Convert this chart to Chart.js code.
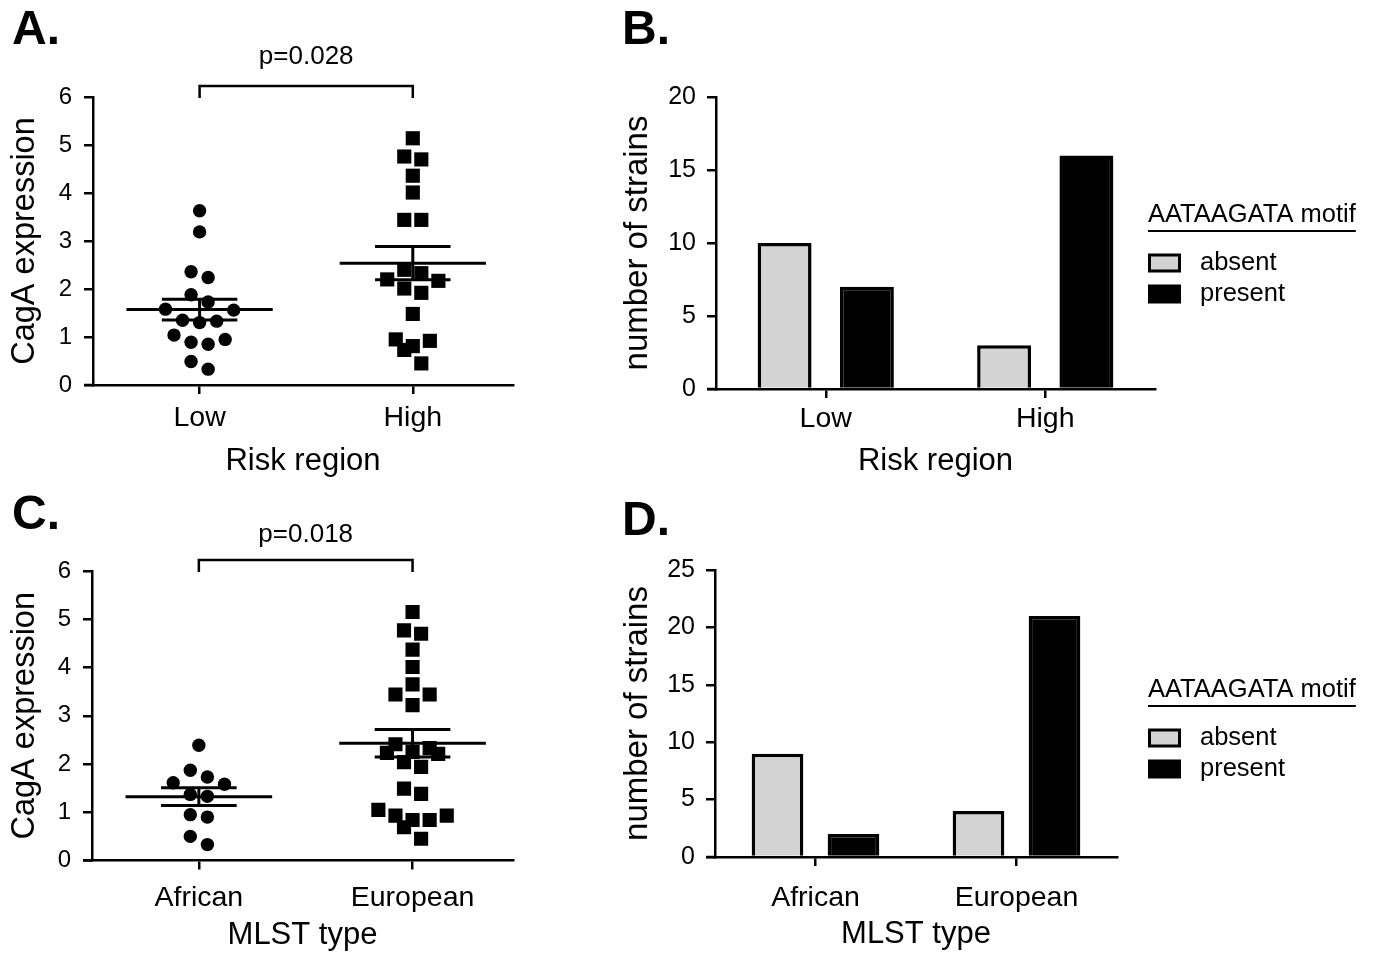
<!DOCTYPE html>
<html><head><meta charset="utf-8">
<script src="https://cdn.jsdelivr.net/npm/chart.js@4.4.1/dist/chart.umd.min.js"></script>
<style>
html,body{margin:0;padding:0;background:#fff;width:1373px;height:956px;overflow:hidden;font-family:"Liberation Sans",Arial,sans-serif;}
canvas{position:absolute;}
.lbl{position:absolute;font-weight:bold;font-size:48px;line-height:48px;color:#000;}
</style></head><body>
<canvas id="cA" style="left:0;top:0" width="560" height="480"></canvas>
<canvas id="cB" style="left:600px;top:0" width="773" height="480"></canvas>
<canvas id="cC" style="left:0;top:475px" width="560" height="481"></canvas>
<canvas id="cD" style="left:600px;top:475px" width="773" height="481"></canvas>
<div class="lbl" style="left:12px;top:4px">A.</div>
<div class="lbl" style="left:622px;top:4px">B.</div>
<div class="lbl" style="left:12px;top:489px">C.</div>
<div class="lbl" style="left:622px;top:495px">D.</div>
<script>
// ---------- data ----------
const riskRegions = ['Low', 'High'];
const mlstTypes   = ['African', 'European'];
const motifStates = ['absent', 'present'];
const motifTitle  = 'AATAAGATA motif';

const cagaLowRisk  = [3.63, 3.19, 2.36, 2.24, 1.88, 1.73, 1.58, 1.56, 1.35, 1.33, 1.30, 1.04, 0.95, 0.89, 0.85, 0.49, 0.33];
const cagaHighRisk = [5.14, 4.76, 4.70, 4.36, 4.01, 3.44, 3.44, 2.40, 2.33, 2.20, 2.17, 2.01, 1.92, 1.48, 0.95, 0.92, 0.81, 0.73, 0.45];
const cagaAfrican  = [2.39, 1.87, 1.73, 1.61, 1.58, 1.37, 1.33, 0.95, 0.90, 0.50, 0.33];
const cagaEuropean = [5.15, 4.77, 4.70, 4.37, 4.01, 3.65, 3.44, 3.44, 3.22, 2.41, 2.33, 2.25, 2.23, 2.21, 2.04, 1.94, 1.49, 1.38, 1.05, 0.93, 0.93, 0.84, 0.84, 0.69, 0.45];

const riskAbsent  = [10, 3];
const riskPresent = [7, 16];
const mlstAbsent  = [9, 4];
const mlstPresent = [2, 21];

const pRisk = 'p=0.028';
const pMlst = 'p=0.018';

// ---------- helpers ----------
Chart.defaults.font.family = '"Liberation Sans", Arial, sans-serif';
Chart.defaults.color = '#000';
const FONT = '"Liberation Sans", Arial, sans-serif';

// GraphPad-like column scatter: bin by value, spread each bin horizontally
function swarm(values, center, binH, step) {
  const asc = values.slice().sort((a, b) => a - b);
  const bins = [];
  let cur = null;
  for (const v of asc) {
    if (!cur || v > cur.start + binH + 1e-9) { cur = { start: v, pts: [] }; bins.push(cur); }
    cur.pts.push(v);
  }
  const out = [];
  for (const b of bins) {
    const n = b.pts.length;
    const slots = [];
    for (let k = 0; k < n; k++) slots.push(k - (n - 1) / 2);
    const order = [];
    let lo = 0, hi = n - 1;
    while (lo <= hi) { order.push(slots[lo]); if (hi !== lo) order.push(slots[hi]); lo++; hi--; }
    const desc = b.pts.slice().sort((a, c) => c - a);
    desc.forEach((v, j) => out.push({ x: center + order[j] * step, y: v }));
  }
  return out;
}

function meanSem(arr) {
  const n = arr.length;
  const m = arr.reduce((s, v) => s + v, 0) / n;
  const sd = Math.sqrt(arr.reduce((s, v) => s + (v - m) * (v - m), 0) / (n - 1));
  return { m, sem: sd / Math.sqrt(n) };
}

const axisOverhang = {
  id: 'axisOverhang',
  afterDraw(chart) {
    const { ctx, chartArea: { left, bottom } } = chart;
    ctx.save();
    ctx.strokeStyle = '#000'; ctx.lineWidth = 2.5;
    ctx.beginPath(); ctx.moveTo(left - 9, bottom); ctx.lineTo(left, bottom); ctx.stroke();
    ctx.restore();
  }
};

const meanSemPlugin = {
  id: 'meanSem',
  afterDatasetsDraw(chart) {
    const { ctx } = chart;
    const xs = chart.scales.x, ys = chart.scales.y;
    ctx.save();
    ctx.strokeStyle = '#000'; ctx.lineWidth = 3; ctx.lineCap = 'butt';
    chart.data.datasets.forEach(ds => {
      const { m, sem } = meanSem(ds.values);
      const c = ds.center;
      const line = (x1, y1, x2, y2) => {
        ctx.beginPath();
        ctx.moveTo(xs.getPixelForValue(x1), ys.getPixelForValue(y1));
        ctx.lineTo(xs.getPixelForValue(x2), ys.getPixelForValue(y2));
        ctx.stroke();
      };
      line(c - 0.343, m, c + 0.343, m);
      line(c - 0.177, m + sem, c + 0.177, m + sem);
      line(c - 0.177, m - sem, c + 0.177, m - sem);
      line(c, m - sem, c, m + sem);
    });
    ctx.restore();
  }
};

const bracketPlugin = {
  id: 'bracket',
  afterDraw(chart, args, opts) {
    const { ctx, chartArea: { top } } = chart;
    const xs = chart.scales.x;
    const x1 = xs.getPixelForValue(1), x2 = xs.getPixelForValue(2);
    ctx.save();
    ctx.strokeStyle = '#000'; ctx.lineWidth = 2.5;
    ctx.beginPath();
    ctx.moveTo(x1, top + 1); ctx.lineTo(x1, top - 11); ctx.lineTo(x2, top - 11); ctx.lineTo(x2, top + 1);
    ctx.stroke();
    ctx.fillStyle = '#000';
    ctx.font = '26px ' + FONT;
    ctx.textAlign = 'center'; ctx.textBaseline = 'middle';
    ctx.fillText(opts.text, (x1 + x2) / 2, top - opts.textOffset);
    ctx.restore();
  }
};

const motifLegend = {
  id: 'motifLegend',
  afterDraw(chart, args, opts) {
    const { ctx, chartArea: { top } } = chart;
    ctx.save();
    ctx.font = '25.5px ' + FONT;
    ctx.fillStyle = '#000';
    ctx.textBaseline = 'middle'; ctx.textAlign = 'left';
    const x0 = opts.x;
    const ty = top + opts.titleOffset;
    ctx.fillText(opts.title, x0, ty);
    const w = ctx.measureText(opts.title).width;
    ctx.strokeStyle = '#000'; ctx.lineWidth = 2;
    ctx.beginPath(); ctx.moveTo(x0, ty + 16); ctx.lineTo(x0 + w, ty + 16); ctx.stroke();
    chart.data.datasets.forEach((ds, i) => {
      const cy = ty + 48 + i * 31;
      ctx.fillStyle = ds.backgroundColor;
      ctx.fillRect(x0 + 1.5, cy - 8, 30, 16);
      ctx.lineWidth = 3; ctx.strokeStyle = '#000';
      ctx.strokeRect(x0 + 1.5, cy - 8, 30, 16);
      ctx.fillStyle = '#000';
      ctx.fillText(ds.label, x0 + 52, cy);
    });
    ctx.restore();
  }
};

const gridStyle = { drawOnChartArea: false, drawTicks: true, tickLength: 9, color: '#000', tickColor: '#000', lineWidth: 2.5, tickWidth: 2.5 };
const borderStyle = { display: true, color: '#000', width: 2.5 };

function scatterPanel(id, cats, groups, pText, cfg) {
  const markers = ['circle', 'rect'];
  const radii = [6.7, 10];
  new Chart(document.getElementById(id), {
    type: 'scatter',
    data: {
      datasets: groups.map((vals, i) => ({
        label: cats[i],
        values: vals,
        center: i + 1,
        data: swarm(vals, i + 1, 0.3, 0.08),
        pointStyle: markers[i],
        pointRadius: radii[i],
        pointBackgroundColor: '#000',
        pointBorderWidth: 0,
        showLine: false
      }))
    },
    options: {
      responsive: false, animation: false, events: [],
      layout: { padding: { left: 0, top: cfg.top, right: cfg.right, bottom: 0 } },
      plugins: { legend: { display: false }, tooltip: { enabled: false },
                 bracket: { text: pText, textOffset: cfg.pOffset } },
      scales: {
        x: {
          type: 'linear', min: 0.5, max: 2.47,
          afterBuildTicks: s => { s.ticks = cats.map((c, i) => ({ value: i + 1 })); },
          afterFit: s => { s.height = cfg.xHeight; },
          grid: gridStyle, border: borderStyle,
          ticks: { callback: v => cats[v - 1] ?? '', autoSkip: false, maxRotation: 0, font: { size: 28.5 }, padding: cfg.xPad, color: '#000' },
          title: { display: true, text: cfg.xTitle, font: { size: 31 }, color: '#000', padding: { top: 0, bottom: cfg.xTitlePad } }
        },
        y: {
          min: 0, max: 6,
          afterFit: s => { s.width = cfg.yWidth; },
          grid: gridStyle, border: borderStyle,
          ticks: { stepSize: 1, font: { size: 24 }, padding: 12, color: '#000' },
          title: { display: true, text: 'CagA expression', font: { size: 32.5 }, color: '#000', padding: { top: cfg.yTitlePad, bottom: 0 } }
        }
      }
    },
    plugins: [meanSemPlugin, bracketPlugin, axisOverhang]
  });
}

function barPanel(id, cats, absent, present, yMax, cfg) {
  new Chart(document.getElementById(id), {
    type: 'bar',
    data: {
      labels: cats,
      datasets: [
        { label: motifStates[0], data: absent, backgroundColor: '#d3d3d3', borderColor: '#000', borderWidth: 3.5 },
        { label: motifStates[1], data: present, backgroundColor: '#000', borderColor: '#000', borderWidth: 3.5 }
      ]
    },
    options: {
      responsive: false, animation: false, events: [],
      categoryPercentage: cfg.catPct, barPercentage: cfg.barPct,
      layout: { padding: { left: 0, top: cfg.top, right: cfg.right, bottom: 0 } },
      plugins: { legend: { display: false }, tooltip: { enabled: false },
                 motifLegend: { title: motifTitle, titleOffset: cfg.legendOffset, x: 548 } },
      scales: {
        x: {
          afterFit: s => { s.height = cfg.xHeight; },
          grid: Object.assign({}, gridStyle, { offset: false }), border: borderStyle,
          ticks: { font: { size: 28.5 }, padding: cfg.xPad, color: '#000', maxRotation: 0 },
          title: { display: true, text: cfg.xTitle, font: { size: 31 }, color: '#000', padding: { top: 0, bottom: cfg.xTitlePad } }
        },
        y: {
          min: 0, max: yMax,
          afterFit: s => { s.width = cfg.yWidth; },
          grid: gridStyle, border: borderStyle,
          ticks: { stepSize: 5, font: { size: 25 }, padding: 11, color: '#000' },
          title: { display: true, text: 'number of strains', font: { size: 33 }, color: '#000', padding: { top: 18, bottom: 0 } }
        }
      }
    },
    plugins: [motifLegend, axisOverhang]
  });
}

scatterPanel('cA', riskRegions, [cagaLowRisk, cagaHighRisk], pRisk,
  { top: 97, right: 47, xHeight: 95, yWidth: 93, xPad: 7, xTitlePad: 0, xTitle: 'Risk region', yTitlePad: 6, pOffset: 40 });
scatterPanel('cC', mlstTypes, [cagaAfrican, cagaEuropean], pMlst,
  { top: 96, right: 47, xHeight: 95.5, yWidth: 92, xPad: 12, xTitlePad: 1.5, xTitle: 'MLST type', yTitlePad: 6, pOffset: 36 });
barPanel('cB', riskRegions, riskAbsent, riskPresent, 20,
  { top: 97, right: 218, xHeight: 91, yWidth: 116, xPad: 4, xTitlePad: 0, xTitle: 'Risk region', catPct: 0.75, barPct: 0.655, legendOffset: 118 });
barPanel('cD', mlstTypes, mlstAbsent, mlstPresent, 25,
  { top: 95, right: 256, xHeight: 99, yWidth: 115, xPad: 15, xTitlePad: 3, xTitle: 'MLST type', catPct: 0.756, barPct: 0.68, legendOffset: 120 });
</script>
</body></html>
